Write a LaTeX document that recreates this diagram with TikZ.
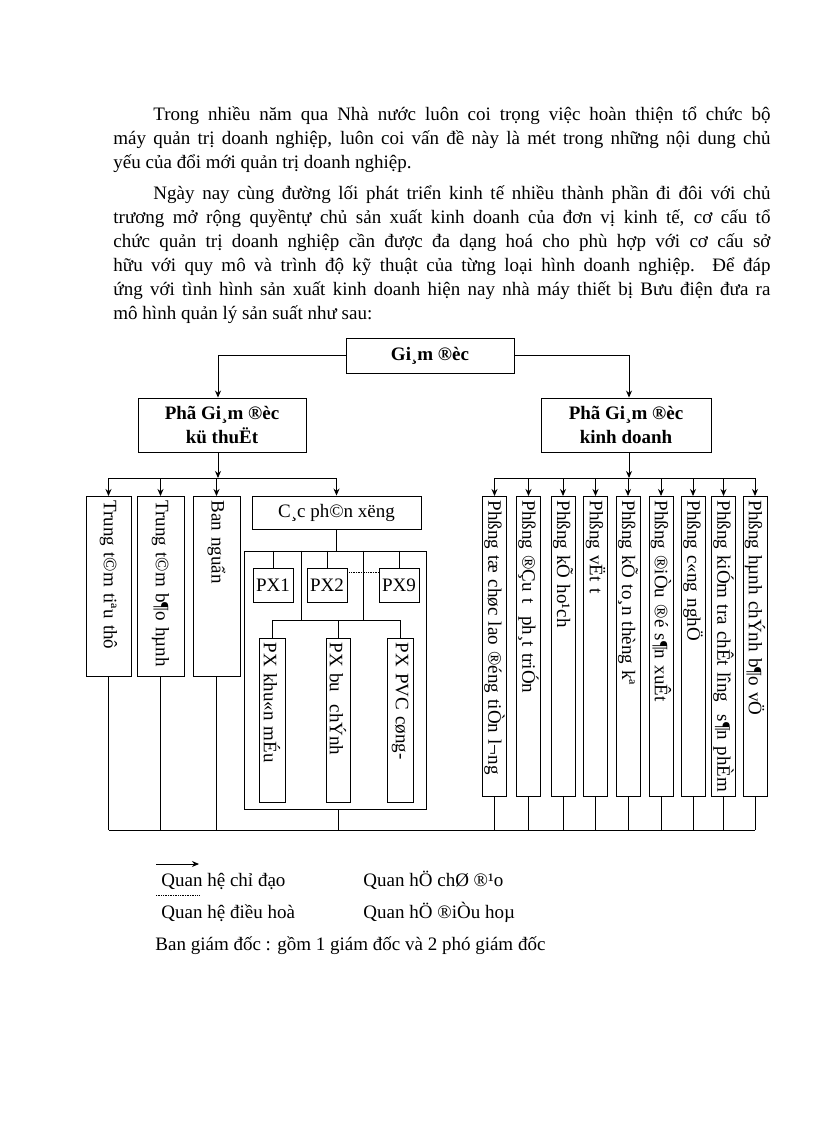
\documentclass[tikz,border=0pt]{standalone}
\usepackage{fontspec}
\setmainfont{Liberation Serif}
\usetikzlibrary{arrows.meta,positioning}

\tikzset{
  hop/.style={draw, align=center, inner sep=0pt},
  dam/.style={font=\fontsize{19}{24}\selectfont\bfseries},
  hopdoc/.style 2 args={draw, rotate=-90, anchor=west, text width=#1, minimum height=#2,
    inner xsep=4pt, inner ysep=0pt, align=left},
}

\begin{document}
\begin{tikzpicture}[x=1pt, y=-1pt, line width=0.9pt, >={Stealth[length=7pt,width=6pt]},
  font=\fontsize{19}{24}\selectfont]
\useasboundingbox (0,0) rectangle (816,1123);

% doan van
\node[anchor=north west, inner sep=0pt, text width=657pt, align=justify] (p1) at (113,106)
 {\parindent=0pt\hyphenpenalty=10000\tolerance=9999\hspace*{40pt}Trong nhiều năm qua Nhà nước luôn coi trọng việc hoàn thiện tổ chức bộ\linebreak
 máy quản trị doanh nghiệp, luôn coi vấn đề này là mét trong những nội dung chủ\linebreak
 yếu của đổi mới quản trị doanh nghiệp.};
\node[anchor=north west, inner sep=0pt, text width=657pt, align=justify] (p2) at (113,185)
 {\parindent=0pt\hyphenpenalty=10000\tolerance=9999\hspace*{40pt}Ngày nay cùng đường lối phát triển kinh tế nhiều thành phần đi đôi với chủ\linebreak
 trương mở rộng quyềntự chủ sản xuất kinh doanh của đơn vị kinh tế, cơ cấu tổ\linebreak
 chức quản trị doanh nghiệp cần được đa dạng hoá cho phù hợp với cơ cấu sở\linebreak
 hữu với quy mô và trình độ kỹ thuật của từng loại hình doanh nghiệp. Để đáp\linebreak
 ứng với tình hình sản xuất kinh doanh hiện nay nhà máy thiết bị Bưu điện đưa ra\linebreak
 mô hình quản lý sản suất như sau:};

% ban giam doc
\node[hop, dam, minimum width=168pt, minimum height=35pt] (gd) at (430,355.5) {Gi¸m ®èc};
\node[hop, dam, minimum width=168pt, minimum height=54pt] (pkt) at (222,425) {Phã Gi¸m ®èc\\kü thuËt};
\node[hop, dam, minimum width=170pt, minimum height=54pt] (pkd) at (626,425) {Phã Gi¸m ®èc\\kinh doanh};

% khoi ky thuat
\node[hopdoc={172pt}{45pt}] (t1) at (108.5,496) {Trung t©m tiªu thô};
\node[hopdoc={172pt}{47pt}] (t2) at (160.5,496) {Trung t©m b¶o hµnh};
\node[hopdoc={172pt}{47pt}] (t3) at (216.5,496) {Ban nguẩn};
\node[hop, minimum width=169pt, minimum height=33pt] (cpx) at (336.5,512.5) {C¸c ph©n xëng};

\node[hop, minimum width=182pt, minimum height=258pt] (khung) at (335,680) {};
\node[hop, minimum width=40pt, minimum height=34pt] (px1) at (273,585) {PX1};
\node[hop, minimum width=40pt, minimum height=34pt] (px2) at (327,585) {PX2};
\node[hop, minimum width=40pt, minimum height=34pt] (px9) at (399,585) {PX9};
\node[hopdoc={156pt}{26pt}] (pxk) at (272,638) {PX khu«n mÉu};
\node[hopdoc={156pt}{24pt}] (pxb) at (338,638) {PX bu\ \ chÝnh};
\node[hopdoc={156pt}{26pt}] (pxp) at (400,638) {PX PVC cøng-};

% khoi kinh doanh
\foreach \x/\ten [count=\i] in {494.5/{Phßng tæ chøc lao ®éng tiÒn l¬ng},
  528.5/{Phßng ®Çu t\ \ ph¸t triÓn}, 563/{Phßng kÕ ho¹ch}, 595.5/{Phßng vËt t},
  628/{Phßng kÕ to¸n thèng kª}, 661/{Phßng ®iÒu ®é s¶n xuÊt}, 693/{Phßng c«ng nghÖ},
  723.5/{Phßng kiÓm tra chÊt lîng\ \ s¶n phÈm}, 755/{Phßng hµnh chÝnh b¶o vÖ}}
  \node[hopdoc={292pt}{24pt}] (p\i) at (\x,496) {\ten};

% duong noi
\coordinate (busT) at (218,478);
\coordinate (busP) at (629,478);
\coordinate (busX) at (0,620);
\coordinate (busD) at (0,830);

\draw[->] (gd.west) -| ([xshift=-4pt]pkt.north);
\draw[->] (gd.east) -| ([xshift=3pt]pkd.north);

\draw[->] ([xshift=-4pt]pkt.south) -- (busT);
\draw (t1.west |- busT) -- (cpx.north |- busT);
\foreach \n in {t1,t2,t3}
  \draw[->] (\n.west |- busT) -- (\n.west);
\draw[->] (cpx.north |- busT) -- (cpx.north);

\draw[->] ([xshift=3pt]pkd.south) -- (busP);
\draw (p1.west |- busP) -- (p9.west |- busP);
\foreach \i in {1,...,9}
  \draw[->] (p\i.west |- busP) -- (p\i.west);

\draw (cpx.south) -- (cpx.south |- khung.north);
\foreach \n in {px1,px2,px9}
  \draw (\n.north |- khung.north) -- (\n.north);
\coordinate (d1) at (301,620);
\coordinate (d2) at (363,620);
\draw (d1 |- khung.north) -- (d1);
\draw (d2 |- khung.north) -- (d2);
\draw (pxk.west |- busX) -- (pxp.west |- busX);
\foreach \n in {pxk,pxb,pxp}
  \draw (\n.west |- busX) -- (\n.west);
\draw[densely dotted, line width=0.7pt] ([yshift=-5pt]px2.north east) -- ([yshift=-5pt]px9.north west);

\draw (t1.east |- busD) -- (p9.east |- busD);
\foreach \n in {t1,t2,t3,p1,p2,p3,p4,p5,p6,p7,p8,p9}
  \draw (\n.east) -- (\n.east |- busD);
\draw (khung.south -| pxb.west) -- (pxb.west |- busD);

% chu thich
\coordinate (m1) at (156,864);
\coordinate (m2) at (199,864);
\draw[->] (m1) -- (m2);
\coordinate (m3) at (156,895);
\coordinate (m4) at (199,895);
\draw[densely dotted, line width=0.7pt] (m3) -- (m4);
\node[anchor=base west, inner sep=0pt] (q1) at (161,886) {Quan hệ chỉ đạo};
\node[anchor=base west, inner sep=0pt] (q2) at (363,886) {Quan hÖ chØ ®¹o};
\node[anchor=base west, inner sep=0pt] (q3) at (161,918) {Quan hệ điều hoà};
\node[anchor=base west, inner sep=0pt] (q4) at (363,918) {Quan hÖ ®iÒu hoµ};
\node[anchor=base west, inner sep=0pt] (q5) at (155,950) {Ban giám đốc : gồm 1 giám đốc và 2 phó giám đốc};
\end{tikzpicture}
\end{document}
